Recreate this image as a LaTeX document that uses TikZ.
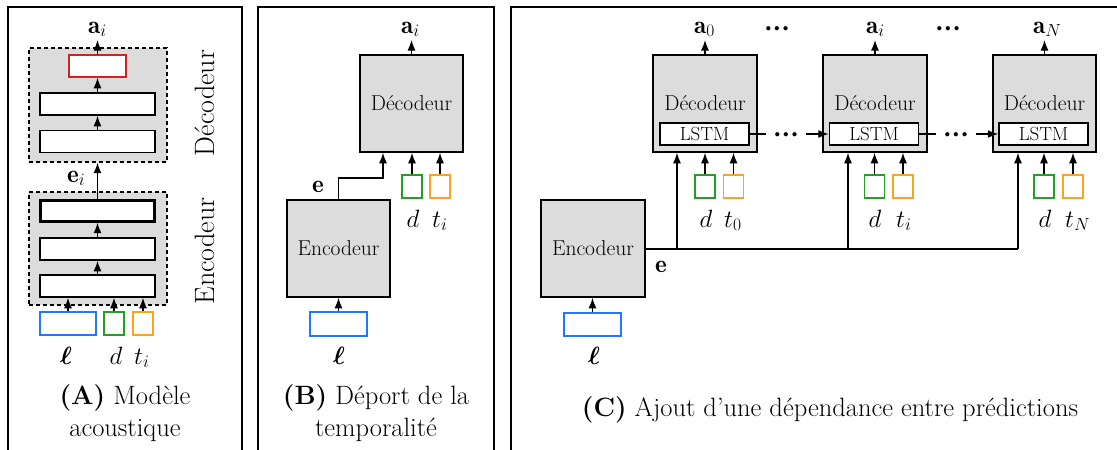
\RequirePackage{fix-cm}
\documentclass[tikz,border=0pt]{standalone}
\usepackage{amsmath,amssymb}
\usepackage{fontspec}
\usetikzlibrary{arrows.meta}
\definecolor{boxgray}{HTML}{DCDCDC}
\definecolor{inblue}{HTML}{2277FF}
\definecolor{ingreen}{HTML}{22A022}
\definecolor{inorange}{HTML}{FFA31A}
\definecolor{outred}{HTML}{D42020}
\newcommand{\mydots}{\ensuremath{{\boldsymbol{\cdot}}{\boldsymbol{\cdot}}{\boldsymbol{\cdot}}}}
\tikzset{
  panelframe/.style={line width=1.4pt},
  blk/.style={draw, fill=boxgray, line width=1.5pt, minimum width=103pt, minimum height=97pt, inner sep=0pt, font=\fontsize{21.5}{24}\selectfont},
  grp/.style={draw, dash pattern=on 4pt off 3pt, fill=boxgray, line width=1.3pt, minimum width=138pt, minimum height=114pt, inner sep=0pt},
  nnlayer/.style={draw, fill=white, line width=1.5pt, minimum width=115pt, minimum height=22pt, inner sep=0pt},
  lstmbox/.style={draw, fill=white, line width=1.5pt, minimum width=89pt, minimum height=22pt, inner sep=0pt, font=\fontsize{19}{21}\selectfont},
  inp/.style={draw, fill=white, line width=1.4pt, minimum width=20pt, minimum height=23pt, inner sep=0pt},
  lab/.style={font=\fontsize{25}{30}\selectfont, inner sep=0pt, anchor=base},
  labw/.style={font=\fontsize{25}{30}\selectfont, inner sep=0pt, anchor=base west},
  dotlab/.style={font=\fontsize{27}{30}\selectfont, inner sep=0pt, anchor=base},
  sidelab/.style={font=\fontsize{28}{30}\selectfont, inner sep=0pt, rotate=90},
  captxt/.style={font=\fontsize{26.5}{32}\selectfont, align=center, inner sep=0pt},
  arr/.style={-{Latex[length=10.5pt,width=8pt]}, line width=1.4pt},
  ln/.style={line width=1.4pt},
}
\begin{document}
\begin{tikzpicture}[x=1pt,y=-1pt]
\useasboundingbox (0,0) rectangle (1117,450);
% ---------------- frames
\draw[panelframe] (8,450) -- (8,7) -- (242,7) -- (242,450);
\draw[panelframe] (258,450) -- (258,7) -- (494,7) -- (494,450);
\draw[panelframe] (511,450) -- (511,7) -- (1117,7);

% ---------------- Panel A
\node[grp] (decA) at (98,105) {};
\node[nnlayer, draw=outred, minimum width=57pt] (rA) at (97.5,66) {};
\node[nnlayer] (dA2) at (97.5,104) {};
\node[nnlayer] (dA1) at (97.5,141.5) {};
\node[grp, minimum height=113pt] (encA) at (98,248.5) {};
\node[nnlayer, line width=2.8pt, minimum width=113.5pt, minimum height=20.5pt] (eA3) at (97.5,211) {};
\node[nnlayer] (eA2) at (97.5,249) {};
\node[nnlayer] (eA1) at (97.5,286) {};
\node[inp, draw=inblue, minimum width=56pt] (lA) at (68,323.5) {};
\node[inp, draw=ingreen] (dAin) at (114,323.5) {};
\node[inp, draw=inorange] (tAin) at (143,323.5) {};
\draw[arr] (lA.north) -- (lA.north |- eA1.south);
\draw[arr] (dAin.north) -- (dAin.north |- eA1.south);
\draw[arr] (tAin.north) -- (tAin.north |- eA1.south);
\draw[arr] (eA1.north) -- (eA2.south);
\draw[arr] (eA2.north) -- (eA3.south);
\draw[arr] (eA3.north) -- (eA3.north |- decA.south);
\draw[arr] (dA1.north) -- (dA2.south);
\draw[arr] (dA2.north) -- (rA.south);
\coordinate (aAt) at (97.5,40);
\draw[arr] (rA.north) -- (aAt);
\node[labw] (aA) at (88,33) {$\mathbf{a}_i$};
\node[labw] (eAl) at (67,182) {$\mathbf{e}_i$};
\node[lab] (lAl) at (66,364) {$\boldsymbol{\ell}$};
\node[lab] (dAl) at (116,364) {$d$};
\node[labw] (tAl) at (134,364) {$t_i$};
\node[sidelab] (decAl) at (205,103) {Décodeur};
\node[sidelab] (encAl) at (205,251) {Encodeur};
\node[captxt] (capA) at (125,413) {\textbf{(A)} Modèle\\acoustique};

% ---------------- Panel B
\node[blk] (decB) at (411.5,103.5) {Décodeur};
\node[blk] (encB) at (338.5,248.5) {Encodeur};
\node[inp, draw=ingreen] (dBin) at (412,186.5) {};
\node[inp, draw=inorange] (tBin) at (440,186.5) {};
\node[inp, draw=inblue, minimum width=57pt, minimum height=24pt] (lB) at (338.5,324) {};
\coordinate (eB) at (383,178);
\draw[arr] (encB.north) |- (eB) -- (eB |- decB.south);
\draw[arr] (dBin.north) -- (dBin.north |- decB.south);
\draw[arr] (tBin.north) -- (tBin.north |- decB.south);
\draw[arr] (lB.north) -- (encB.south);
\coordinate (aBt) at (411.5,40);
\draw[arr] (decB.north) -- (aBt);
\node[labw] (aB) at (401,33) {$\mathbf{a}_i$};
\node[labw] (eBl) at (312,192) {$\mathbf{e}$};
\node[lab] (dBl) at (413,227) {$d$};
\node[labw] (tBl) at (432,227) {$t_i$};
\node[lab] (lBl) at (339,364) {$\boldsymbol{\ell}$};
\node[captxt] (capB) at (376,413) {\textbf{(B)} Déport de la\\temporalité};

% ---------------- Panel C
\node[blk, minimum width=104pt] (encC) at (593,248.5) {Encodeur};
\node[inp, draw=inblue, minimum width=57pt] (lC) at (592.5,324.5) {};
\draw[arr] (lC.north) -- (lC.north |- encC.south);
\node[lab] (lCl) at (594,364) {$\boldsymbol{\ell}$};

\node[blk, minimum width=104pt] (dec0) at (705,103.5) {Décodeur};
\node[blk, minimum width=104pt] (deci) at (875,103.5) {Décodeur};
\node[blk, minimum width=103pt] (decN) at (1044.5,103.5) {Décodeur};
\node[lstmbox] (lstm0) at (704.5,134) {LSTM};
\node[lstmbox] (lstmi) at (874,134) {LSTM};
\node[lstmbox] (lstmN) at (1043.5,134) {LSTM};

\node[inp, draw=ingreen] (d0in) at (705,186.5) {};
\node[inp, draw=inorange] (t0in) at (733.5,186.5) {};
\node[inp, draw=ingreen] (diin) at (874.5,186.5) {};
\node[inp, draw=inorange] (tiin) at (903,186.5) {};
\node[inp, draw=ingreen] (dNin) at (1044,186.5) {};
\node[inp, draw=inorange] (tNin) at (1073,186.5) {};
\foreach \n/\d in {d0in/dec0, t0in/dec0, diin/deci, tiin/deci, dNin/decN, tNin/decN}
  \draw[arr] (\n.north) -- (\n.north |- \d.south);

% e bus
\coordinate (b0) at (677,249);
\coordinate (bi) at (848,249);
\coordinate (bN) at (1018,249);
\draw[ln] (encC.east |- b0) -- (bN);
\draw[arr] (b0) -- (b0 |- dec0.south);
\draw[arr] (bi) -- (bi |- deci.south);
\draw[arr] (bN) -- (bN |- decN.south);
\node[labw] (eCl) at (655,272) {$\mathbf{e}$};

% LSTM chain
\coordinate (c0a) at (766,134);
\coordinate (c0b) at (806,134);
\coordinate (cia) at (936,134);
\coordinate (cib) at (976,134);
\draw[ln] (lstm0.east) -- (c0a);
\draw[arr] (c0b) -- (lstmi.west);
\draw[ln] (lstmi.east) -- (cia);
\draw[arr] (cib) -- (lstmN.west);
\node[dotlab] (dots1) at (786,141) {\mydots};
\node[dotlab] (dots2) at (956,141) {\mydots};

% outputs
\coordinate (a0t) at (705,40);
\coordinate (ait) at (875,40);
\coordinate (aNt) at (1044.5,40);
\draw[arr] (dec0.north) -- (a0t);
\draw[arr] (deci.north) -- (ait);
\draw[arr] (decN.north) -- (aNt);
\node[labw] (a0) at (694,33) {$\mathbf{a}_0$};
\node[labw] (ai) at (866,33) {$\mathbf{a}_i$};
\node[labw] (aN) at (1033,33) {$\mathbf{a}_N$};
\node[dotlab] (dots3) at (777,35) {\mydots};
\node[dotlab] (dots4) at (948,35) {\mydots};

% inputs labels
\node[lab] (d0l) at (706,227) {$d$};
\node[labw] (t0l) at (724,227) {$t_0$};
\node[lab] (dil) at (875,227) {$d$};
\node[labw] (til) at (896,227) {$t_i$};
\node[lab] (dNl) at (1045,227) {$d$};
\node[labw] (tNl) at (1065,227) {$t_N$};

\node[captxt] (capC) at (830,410) {\textbf{(C)} Ajout d’une dépendance entre prédictions};
\end{tikzpicture}
\end{document}
